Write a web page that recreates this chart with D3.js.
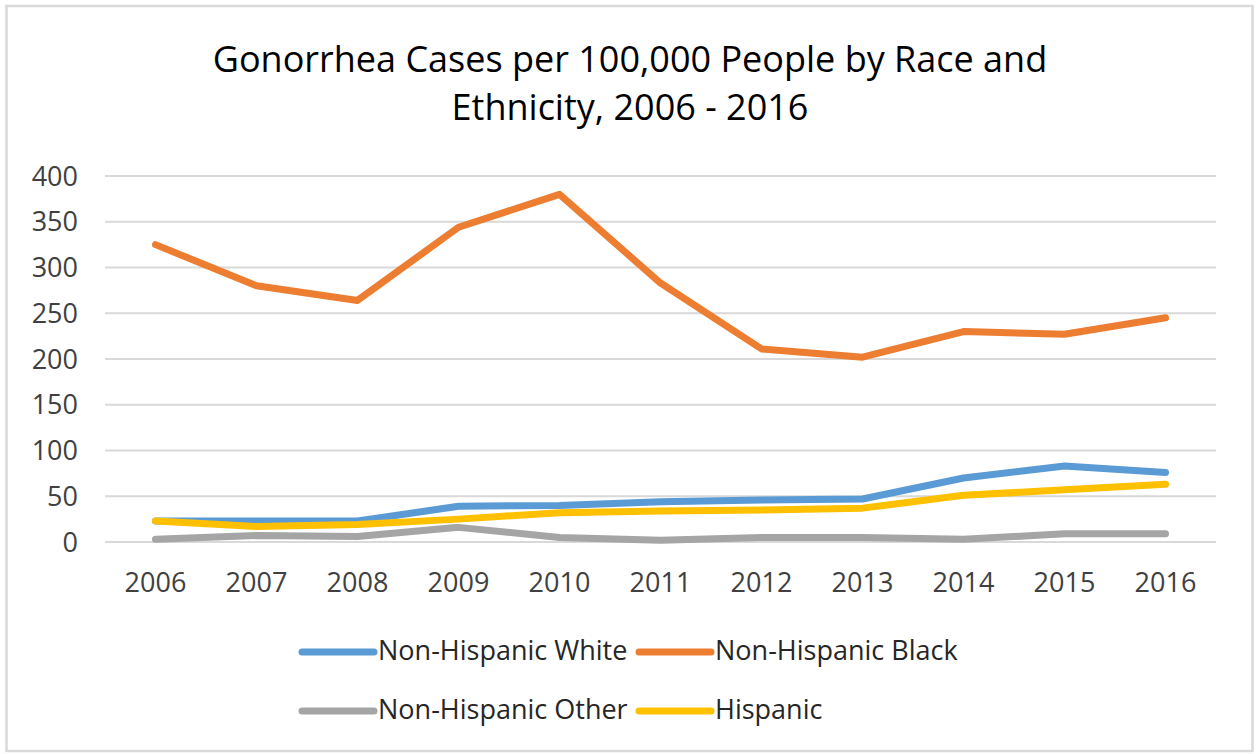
<!DOCTYPE html>
<html>
<head>
<meta charset="utf-8">
<script src="https://cdn.jsdelivr.net/npm/d3@7"></script>
<style>
  body { margin: 0; background: #fff; }
  text { font-family: "Open Sans", sans-serif; }
</style>
</head>
<body>
<svg class="line-chart"></svg>
<script>
var years = ["2006", "2007", "2008", "2009", "2010", "2011", "2012", "2013", "2014", "2015", "2016"];
var white = [23, 23, 23, 39, 40, 44, 46, 47, 70, 83, 76];
var black = [325, 280, 264, 344, 380, 283, 211, 202, 230, 227, 245];
var other = [3, 7, 6, 16, 5, 2, 5, 5, 3, 9, 9];
var hispanic = [23, 17, 19, 25, 32, 34, 35, 37, 51, 57, 63];
var yTicks = [0, 50, 100, 150, 200, 250, 300, 350, 400];

var seriesNames = ["Non-Hispanic White", "Non-Hispanic Black", "Non-Hispanic Other", "Hispanic"];
var seriesColors = ["#5B9BD5", "#ED7D31", "#A5A5A5", "#FFC000"];
var seriesValues = [white, black, other, hispanic];

var svgWidth = 1256, svgHeight = 754;

var svg = d3.select('svg.line-chart')
    .attr("width", svgWidth)
    .attr("height", svgHeight);

// chart border
svg.append("rect")
    .attr("x", 6.5)
    .attr("y", 6)
    .attr("width", 1246)
    .attr("height", 745)
    .attr("fill", "#fff")
    .attr("stroke", "#D9D9D9")
    .attr("stroke-width", 2.5);

var xScale = d3.scaleBand().domain(years).range([105, 1216]),
    yScale = d3.scaleLinear().domain([0, 400]).range([542, 176]);

function xMid(d) { return xScale(d) + xScale.bandwidth() / 2; }

// Title
var title = svg.append('text')
    .attr('text-anchor', 'middle')
    .style('font-size', '36px')
    .attr('fill', '#000');
title.append('tspan').attr('x', 630).attr('y', 72).text('Gonorrhea Cases per 100,000 People by Race and');
title.append('tspan').attr('x', 630).attr('y', 120).text('Ethnicity, 2006 - 2016');

// gridlines
svg.append("g")
    .selectAll("line")
    .data(yTicks)
    .enter()
    .append("line")
    .attr("x1", 105)
    .attr("x2", 1216)
    .attr("y1", function (d) { return yScale(d); })
    .attr("y2", function (d) { return yScale(d); })
    .attr("stroke", "#D9D9D9")
    .attr("stroke-width", 2);

// y labels
svg.append("g")
    .selectAll("text")
    .data(yTicks)
    .enter()
    .append("text")
    .attr("x", 78)
    .attr("y", function (d) { return yScale(d); })
    .attr("dy", "0.36em")
    .attr("text-anchor", "end")
    .attr("fill", "#404040")
    .style("font-size", "27px")
    .text(function (d) { return d; });

// x labels
svg.append("g")
    .selectAll("text")
    .data(years)
    .enter()
    .append("text")
    .attr("x", xMid)
    .attr("y", 592)
    .attr("text-anchor", "middle")
    .attr("fill", "#404040")
    .style("font-size", "27px")
    .text(function (d) { return d; });

var line = d3.line()
    .x(function (d, i) { return xMid(years[i]); })
    .y(function (d) { return yScale(d); });

// draw order like Excel: white, black, other, hispanic
svg.append("g")
    .selectAll("path")
    .data(seriesValues)
    .enter()
    .append("path")
    .attr("d", line)
    .attr("fill", "none")
    .attr("stroke", function (d, i) { return seriesColors[i]; })
    .attr("stroke-width", 7)
    .attr("stroke-linecap", "round")
    .attr("stroke-linejoin", "round");

// legend
var legendPos = [[302, 652], [639, 652], [302, 711], [639, 711]];

var legend = svg.append("g")
    .selectAll("g")
    .data(seriesNames)
    .enter()
    .append("g")
    .attr("transform", function (d, i) { return "translate(" + legendPos[i][0] + "," + legendPos[i][1] + ")"; });

legend.append("line")
    .attr("x1", 0)
    .attr("x2", 72)
    .attr("stroke", function (d, i) { return seriesColors[i]; })
    .attr("stroke-width", 7)
    .attr("stroke-linecap", "round");

legend.append("text")
    .attr("x", 76)
    .attr("y", 8)
    .attr("fill", "#262626")
    .style("font-size", "27px")
    .text(function (d) { return d; });
</script>
</body>
</html>
